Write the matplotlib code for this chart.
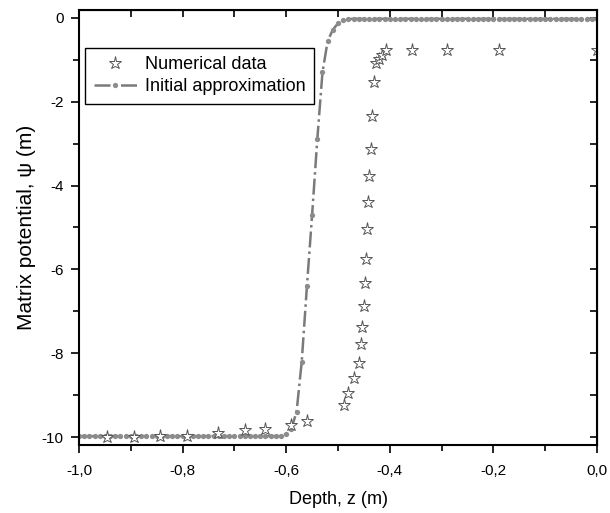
import matplotlib

matplotlib.use("Agg")
import matplotlib.pyplot as plt
from matplotlib.ticker import AutoMinorLocator, FuncFormatter, MultipleLocator

plt.rcParams["font.family"] = ["Liberation Sans", "DejaVu Sans"]
plt.rcParams["axes.unicode_minus"] = False

# Numerical data (stars)
z_num = [-0.946, -0.894, -0.843, -0.791, -0.731, -0.679, -0.640, -0.591, -0.560,
         -0.489, -0.480, -0.469, -0.460, -0.456, -0.453, -0.449, -0.447, -0.446,
         -0.444, -0.442, -0.440, -0.437, -0.434, -0.431, -0.426, -0.420, -0.416,
         -0.408, -0.358, -0.290, -0.190, 0.0]
psi_num = [-10.0, -10.0, -9.98, -9.97, -9.90, -9.84, -9.80, -9.72, -9.62,
           -9.24, -8.96, -8.60, -8.24, -7.79, -7.37, -6.87, -6.33, -5.76,
           -5.04, -4.40, -3.76, -3.13, -2.34, -1.54, -1.08, -0.99, -0.88,
           -0.76, -0.76, -0.76, -0.76, -0.76]

# Initial approximation (dash-dot with dots), read every 0.01 m
z_app = [-1.00, -0.99, -0.98, -0.97, -0.96, -0.95, -0.94, -0.93, -0.92, -0.91,
         -0.90, -0.89, -0.88, -0.87, -0.86, -0.85, -0.84, -0.83, -0.82, -0.81,
         -0.80, -0.79, -0.78, -0.77, -0.76, -0.75, -0.74, -0.73, -0.72, -0.71,
         -0.70, -0.69, -0.68, -0.67, -0.66, -0.65, -0.64, -0.63, -0.62, -0.61,
         -0.60, -0.59, -0.58, -0.57, -0.56, -0.55, -0.54, -0.53, -0.52, -0.51,
         -0.50, -0.49, -0.48, -0.47, -0.46, -0.45, -0.44, -0.43, -0.42, -0.41,
         -0.40, -0.39, -0.38, -0.37, -0.36, -0.35, -0.34, -0.33, -0.32, -0.31,
         -0.30, -0.29, -0.28, -0.27, -0.26, -0.25, -0.24, -0.23, -0.22, -0.21,
         -0.20, -0.19, -0.18, -0.17, -0.16, -0.15, -0.14, -0.13, -0.12, -0.11,
         -0.10, -0.09, -0.08, -0.07, -0.06, -0.05, -0.04, -0.03, -0.02, -0.01,
         0.00]
psi_app = [-9.98] * 40 + [
    -9.92, -9.80, -9.40, -8.20, -6.40, -4.70, -2.90, -1.30, -0.55, -0.28,
    -0.13, -0.06, -0.03,
] + [-0.02] * 48

fig = plt.figure(figsize=(6.1, 5.13), dpi=100)
ax = fig.add_axes([0.1295, 0.1326, 0.8492, 0.8479])

ax.plot(z_app, psi_app, linestyle="-.", color="#7a7a7a", linewidth=1.8,
        marker="o", markersize=3.8, markeredgewidth=0, markerfacecolor="#8c8c8c",
        label="Initial approximation")
ax.plot(z_num, psi_num, linestyle="none", marker="*", markersize=9.5,
        markerfacecolor="white", markeredgecolor="#555555", markeredgewidth=0.7,
        label="Numerical data")

ax.set_xlim(-1.0, 0.0)
ax.set_ylim(-10.19, 0.19)
ax.xaxis.set_major_locator(MultipleLocator(0.2))
ax.xaxis.set_minor_locator(AutoMinorLocator(2))
ax.yaxis.set_major_locator(MultipleLocator(2))
ax.yaxis.set_minor_locator(AutoMinorLocator(2))
ax.xaxis.set_major_formatter(FuncFormatter(lambda v, p: f"{v:.1f}".replace(".", ",")))
ax.yaxis.set_major_formatter(FuncFormatter(lambda v, p: f"{v:.0f}"))

ax.tick_params(which="major", direction="out", length=6, width=1.2, labelsize=11)
ax.tick_params(which="minor", direction="out", length=4, width=1.2)
ax.tick_params(axis="x", which="major", pad=8)
ax.tick_params(axis="y", which="major", pad=5)
for s in ax.spines.values():
    s.set_linewidth(1.5)

# mirrored inward ticks on top and right
top = ax.secondary_xaxis("top")
top.xaxis.set_major_locator(MultipleLocator(0.2))
top.xaxis.set_minor_locator(AutoMinorLocator(2))
top.tick_params(which="both", direction="in", length=5, width=1.2, labeltop=False)
right = ax.secondary_yaxis("right")
right.yaxis.set_major_locator(MultipleLocator(2))
right.yaxis.set_minor_locator(AutoMinorLocator(2))
right.tick_params(which="both", direction="in", length=5, width=1.2, labelright=False)

ax.set_xlabel("Depth, z (m)", fontsize=13, labelpad=9)
ax.set_ylabel("Matrix potential, \u03c8 (m)", fontsize=15, labelpad=4)

handles, labels = ax.get_legend_handles_labels()
leg = ax.legend(handles[::-1], labels[::-1], loc="upper left",
                bbox_to_anchor=(0.0125, 0.913), borderaxespad=0, fontsize=13,
                numpoints=1, handlelength=2.4, handletextpad=0.45,
                borderpad=0.45, labelspacing=0.3, fancybox=False, framealpha=1)
leg.get_frame().set_edgecolor("black")
leg.get_frame().set_linewidth(1.0)

fig.savefig("out.png", dpi=100)
